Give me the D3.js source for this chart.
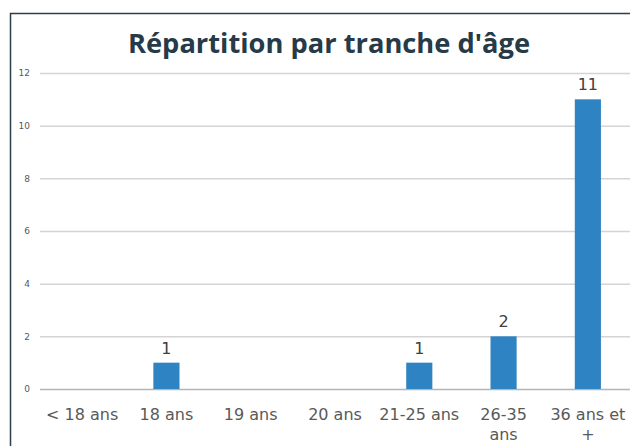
<!DOCTYPE html>
<html>
<head>
<meta charset="utf-8">
<script src="https://cdn.jsdelivr.net/npm/d3@7"></script>
<style>
  body { margin: 0; background: #fff; }
  svg { display: block; }
</style>
</head>
<body>
<svg id="chart" width="630" height="446"></svg>
<script>
const categories = ['< 18 ans', '18 ans', '19 ans', '20 ans', '21-25 ans', '26-35 ans', '36 ans et +'];
const counts = [0, 1, 0, 0, 1, 2, 11];
const yTicks = [0, 2, 4, 6, 8, 10, 12];

const WIDTH = 630;
const HEIGHT = 446;
const MARGIN = { top: 73, right: 0, bottom: 57, left: 40 };
const width = WIDTH - MARGIN.left - MARGIN.right;
const height = HEIGHT - MARGIN.top - MARGIN.bottom;
const LABEL_FONT = 'DejaVu Sans, sans-serif';

const $svg = d3.select('#chart');

// frame
$svg.append('rect')
  .attr('x', 10.5).attr('y', 13.5)
  .attr('width', 640).attr('height', 460)
  .attr('fill', 'none')
  .attr('stroke', '#2f3f4a')
  .attr('stroke-width', 1.5);

// title
$svg.append('text')
  .text("Répartition par tranche d'âge")
  .attr('x', 329).attr('y', 53)
  .attr('text-anchor', 'middle')
  .attr('font-family', 'Open Sans, sans-serif')
  .attr('font-weight', 'bold')
  .attr('font-size', 26)
  .attr('textLength', 402)
  .attr('lengthAdjust', 'spacingAndGlyphs')
  .attr('fill', '#263a47');

const scaleX = d3.scaleBand()
  .domain(categories)
  .range([0, width])
  .paddingInner(0.69)
  .paddingOuter(0.345);

const scaleY = d3.scaleLinear()
  .domain([0, 12])
  .range([height, 0]);

const $g = $svg.append('g')
  .attr('transform', `translate(${MARGIN.left},${MARGIN.top})`);

// grid + y axis
const axisY = d3.axisLeft(scaleY)
  .tickValues(yTicks)
  .tickSize(-width)
  .tickPadding(10);

const $axisY = $g.append('g').call(axisY);
$axisY.select('.domain').remove();
$axisY.selectAll('line')
  .attr('stroke', d => d === 0 ? '#b5b5b5' : '#d4d4d4')
  .attr('stroke-width', 1.5);
$axisY.selectAll('text')
  .attr('font-family', LABEL_FONT)
  .attr('font-size', 9)
  .attr('fill', '#595959');

const barData = categories.map((c, i) => ({ cat: c, value: counts[i] })).filter(d => d.value > 0);

// bars
$g.selectAll('rect.bar')
  .data(barData)
  .join('rect')
  .attr('class', 'bar')
  .attr('x', d => scaleX(d.cat))
  .attr('width', scaleX.bandwidth())
  .attr('y', d => scaleY(d.value))
  .attr('height', d => scaleY(0) - scaleY(d.value))
  .attr('fill', '#2e83c3');

// value labels
$g.selectAll('text.value')
  .data(barData)
  .join('text')
  .attr('class', 'value')
  .text(d => d.value)
  .attr('x', d => scaleX(d.cat) + scaleX.bandwidth() / 2)
  .attr('y', d => scaleY(d.value) - 9)
  .attr('text-anchor', 'middle')
  .attr('font-family', LABEL_FONT)
  .attr('font-size', 16)
  .attr('fill', '#404040');

// category labels (wrapped)
const lines = {
  '26-35 ans': ['26-35', 'ans'],
  '36 ans et +': ['36 ans et', '+']
};
const $cat = $g.append('g')
  .selectAll('text')
  .data(categories)
  .join('text')
  .attr('x', d => scaleX(d) + scaleX.bandwidth() / 2)
  .attr('y', height + 31)
  .attr('text-anchor', 'middle')
  .attr('font-family', LABEL_FONT)
  .attr('font-size', 16)
  .attr('fill', '#595959');

$cat.each(function (d) {
  const parts = lines[d] || [d];
  const t = d3.select(this);
  parts.forEach((p, i) => {
    t.append('tspan')
      .attr('x', scaleX(d) + scaleX.bandwidth() / 2)
      .attr('dy', i === 0 ? 0 : 20)
      .text(p);
  });
});
</script>
</body>
</html>
